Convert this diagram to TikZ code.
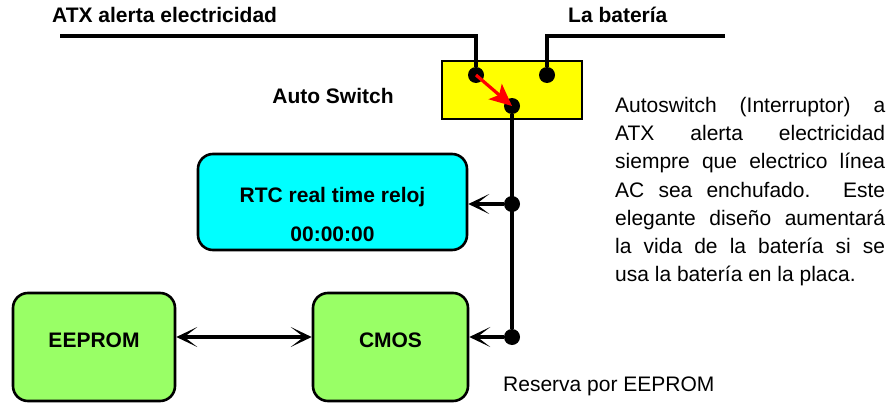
\documentclass[tikz,border=0pt]{standalone}
\usepackage{fontspec}
\setmainfont{Liberation Sans}
\usepackage{xcolor}
\usepackage{tikz}
\usetikzlibrary{arrows.meta, positioning}
\definecolor{boxgreen}{HTML}{99FF66}
\definecolor{rtccyan}{HTML}{00FFFF}
\definecolor{swyellow}{HTML}{FFFF00}
\definecolor{arrred}{HTML}{FF0000}

\begin{document}
\begin{tikzpicture}[x=1pt, y=-1pt,
   wire/.style={line width=3.2pt},
   dot/.style={circle, fill=black, inner sep=0pt, minimum size=16pt},
   box/.style={draw, line width=2.6pt, rounded corners=15pt, font=\fontsize{21}{25}\selectfont\bfseries, text height=15pt, text depth=15pt},
   lbl/.style={inner sep=0pt, font=\fontsize{21}{25}\selectfont\bfseries},
   txt/.style={inner sep=0pt, font=\fontsize{21}{28.3}\selectfont},
   tip/.style={-{Stealth[length=21pt, width=20pt, inset=13pt]}}
]
\useasboundingbox (0,0) rectangle (894,404);

% Labels on top
\node[lbl, anchor=base west] (atxlbl) at (52,23) {ATX alerta electricidad};
\node[lbl, anchor=base west] (batlbl) at (568,23) {La batería};
\node[lbl, anchor=base] (swlbl) at (333,103) {Auto Switch};

% Switch and blocks
\node[draw, line width=2.6pt, fill=swyellow, minimum width=140pt, minimum height=58pt] (switch) at (512,90) {};
\node[box, fill=rtccyan, minimum width=269pt, minimum height=96pt] (rtc) at (332.5,202) {RTC real time reloj};
\node[lbl, anchor=base] (rtctime) at (332.5,241) {00:00:00};
\node[box, fill=boxgreen, minimum width=162pt, minimum height=108pt] (eeprom) at (94,347) {EEPROM};
\node[box, fill=boxgreen, minimum width=155pt, minimum height=108pt] (cmos) at (390.5,347) {CMOS};

% Contacts
\foreach \n/\px/\py in {atx/476/75, bat/547/75, out/512/106, rtc/512/204, cmos/512/337} {
   \node[dot] (d\n) at (\px,\py) {};
}

% Wires
\coordinate (atxend) at (60,36);
\coordinate (batend) at (725,36);
\draw[wire] (atxend) -| (datx);
\draw[wire] (batend) -| (dbat);
\draw[wire] (dout) -- (dcmos);
\draw[line width=3.2pt, arrred, -{Stealth[length=22pt, width=20pt, inset=5pt]}] (datx.center) -- (dout.center);

% Arrows to the blocks
\draw[wire, tip] (drtc) -- (drtc -| rtc.east);
\draw[wire, tip] (dcmos) -- (dcmos -| cmos.east);
\draw[wire, {Stealth[length=21pt, width=20pt, inset=13pt]}-{Stealth[length=21pt, width=20pt, inset=13pt]}] (eeprom.east |- dcmos) -- (cmos.west |- dcmos);

\node[txt, anchor=base west] (reserva) at (503,391) {Reserva por EEPROM};
\node[txt, anchor=north west, text width=270pt, align=justify] (note) at (615,96.7) {\tolerance=10000 Autoswitch (Interruptor) a\linebreak ATX alerta electricidad\linebreak siempre que electrico línea\linebreak AC sea enchufado. Este\linebreak elegante diseño aumentará\linebreak la vida de la batería si se\linebreak usa la batería en la placa.};
\end{tikzpicture}
\end{document}
